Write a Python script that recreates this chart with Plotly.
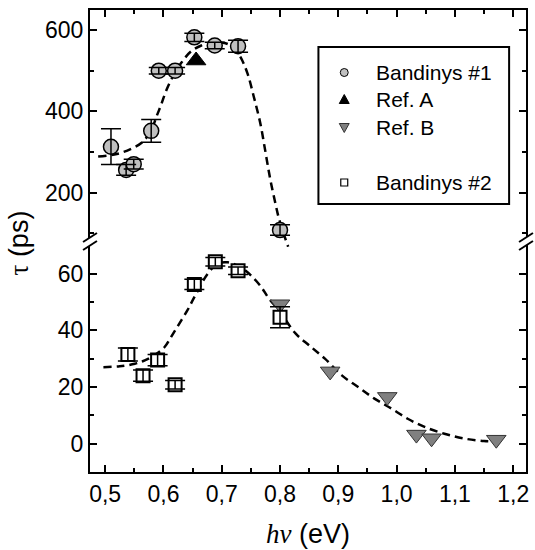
import plotly.graph_objects as go

# ---- data -------------------------------------------------------------
# Bandinys #1 (upper, ps scale)
b1_x = [0.510, 0.536, 0.549, 0.579, 0.592, 0.620, 0.653, 0.688, 0.728, 0.800]
b1_y = [313, 256, 270, 352, 500, 500, 582, 562, 560, 108]
b1_err = [44, 13, 12, 28, 8, 8, 10, 8, 15, 13]

# Ref. A
refa_x = [0.656]
refa_y = [525]

# Bandinys #2 (lower scale)
b2_x = [0.539, 0.565, 0.590, 0.620, 0.653, 0.689, 0.728, 0.800]
b2_y = [31.5, 24.0, 29.5, 20.8, 56.2, 64.2, 61.0, 44.6]
b2_err = [2.3, 2.0, 2.0, 1.5, 1.8, 1.5, 1.3, 3.7]

# Ref. B
refb_x = [0.800, 0.886, 0.984, 1.034, 1.060, 1.171]
refb_y = [49.2, 25.5, 16.5, 3.2, 1.9, 1.4]

# dashed guide lines
fit1_x = [0.488, 0.520, 0.545, 0.562, 0.578, 0.588, 0.596, 0.605, 0.616, 0.630,
          0.647, 0.665, 0.685, 0.705, 0.720, 0.732, 0.744, 0.755, 0.766, 0.775,
          0.783, 0.792, 0.798, 0.806, 0.814]
fit1_y = [289, 295, 308, 322, 350, 387, 416, 452, 485, 518,
          547, 562, 568, 568, 557, 534, 494, 436, 372, 300,
          235, 174, 137, 100, 67]

fit2_x = [0.497, 0.525, 0.551, 0.568, 0.585, 0.602, 0.613, 0.627, 0.641, 0.653,
          0.676, 0.693, 0.710, 0.725, 0.738, 0.750, 0.767, 0.780, 0.800, 0.827,
          0.850, 0.877, 0.906, 0.934, 0.962, 0.991, 1.019, 1.048, 1.082, 1.116,
          1.150, 1.172]
fit2_y = [27.0, 27.3, 28.2, 29.4, 31.3, 34.1, 37.6, 42.3, 47.0, 51.7,
          60.0, 63.5, 64.0, 63.0, 61.5, 59.4, 55.5, 51.5, 46.5, 38.8,
          34.7, 30.0, 24.1, 20.0, 15.9, 12.4, 8.8, 5.9, 3.5, 1.8,
          0.9, 0.8]

x_ticks = [0.5, 0.6, 0.7, 0.8, 0.9, 1.0, 1.1, 1.2]
x_ticktext = ["0,5", "0,6", "0,7", "0,8", "0,9", "1,0", "1,1", "1,2"]
x_minor = [0.55, 0.65, 0.75, 0.85, 0.95, 1.05, 1.15]
y_lo_ticks = [0, 20, 40, 60]
y_lo_minor = [-10, 10, 30, 50]
y_hi_ticks = [200, 400, 600]
y_hi_minor = [100, 300, 500]

legend_names = ["Bandinys #1", "Ref. A", "Ref. B", "Bandinys #2"]

# ---- geometry ------------------------------------------------------------
W, H = 535, 550
ML, MR, MT, MB = 90, 6, 10, 78
PW, PH = W - ML - MR, H - MT - MB
SPLIT = (H - MB - 247) / PH          # boundary between the two panels


def px(xp):
    return (xp - ML) / PW


def py(yp):
    return (H - MB - yp) / PH


FONT = "Liberation Sans, Arial, sans-serif"
SERIF = "Liberation Serif, Times New Roman, serif"
DASH = "8px,5px"
GREY1 = "#c0c0c0"
GREY2 = "#808080"

fig = go.Figure()

# guide curves
fig.add_trace(go.Scatter(x=fit1_x, y=fit1_y, xaxis="x2", yaxis="y2", mode="lines",
                         line=dict(color="black", width=2.5, dash=DASH, shape="spline"),
                         hoverinfo="skip"))
fig.add_trace(go.Scatter(x=fit2_x, y=fit2_y, xaxis="x", yaxis="y", mode="lines",
                         line=dict(color="black", width=2.5, dash=DASH, shape="spline"),
                         hoverinfo="skip"))

# upper panel markers
fig.add_trace(go.Scatter(x=b1_x, y=b1_y, xaxis="x2", yaxis="y2", mode="markers",
                         marker=dict(symbol="circle", size=15, color=GREY1,
                                     line=dict(color="black", width=1.5))))
fig.add_trace(go.Scatter(x=b1_x, y=b1_y, xaxis="x2", yaxis="y2", mode="markers",
                         marker=dict(size=1, color="rgba(0,0,0,0)"),
                         error_y=dict(type="data", array=b1_err, color="black",
                                      thickness=1.5, width=10)))
fig.add_trace(go.Scatter(x=refa_x, y=refa_y, xaxis="x2", yaxis="y2", mode="markers",
                         marker=dict(symbol="triangle-up", size=17, color="black",
                                     line=dict(color="black", width=1))))

# lower panel markers
fig.add_trace(go.Scatter(x=refb_x, y=refb_y, xaxis="x", yaxis="y", mode="markers",
                         marker=dict(symbol="triangle-down", size=17, color=GREY2,
                                     line=dict(color="#333333", width=1))))
fig.add_trace(go.Scatter(x=b2_x, y=b2_y, xaxis="x", yaxis="y", mode="markers",
                         marker=dict(symbol="square", size=13, color="white",
                                     line=dict(color="black", width=2))))
fig.add_trace(go.Scatter(x=b2_x, y=b2_y, xaxis="x", yaxis="y", mode="markers",
                         marker=dict(size=1, color="rgba(0,0,0,0)"),
                         error_y=dict(type="data", array=b2_err, color="black",
                                      thickness=1.5, width=10)))

axis_common = dict(showline=True, linecolor="black", linewidth=2, ticks="inside",
                   ticklen=7, tickwidth=2, tickcolor="black", showgrid=False,
                   zeroline=False, tickfont=dict(family=FONT, size=23, color="black"))


def minor(vals):
    return dict(tickvals=vals, ticks="inside", ticklen=4, tickwidth=2,
                tickcolor="black", showgrid=False)


fig.update_layout(
    width=W, height=H,
    margin=dict(l=ML, r=MR, t=MT, b=MB),
    paper_bgcolor="white", plot_bgcolor="white",
    showlegend=False,
    xaxis=dict(domain=[0, 1], anchor="y", range=[0.474, 1.222],
               tickmode="array", tickvals=x_ticks, ticktext=x_ticktext,
               minor=minor(x_minor), **axis_common),
    xaxis2=dict(domain=[0, 1], anchor="y2", matches="x", side="top",
                range=[0.474, 1.222], tickmode="array", tickvals=x_ticks,
                showticklabels=False, minor=minor(x_minor), **axis_common),
    yaxis=dict(domain=[0, SPLIT], anchor="x", range=[-10, 69.4], mirror="ticks",
               tickmode="array", tickvals=y_lo_ticks, minor=minor(y_lo_minor),
               **axis_common),
    yaxis2=dict(domain=[SPLIT, 1], anchor="x2", range=[66.4, 649.2], mirror="ticks",
                tickmode="array", tickvals=y_hi_ticks, minor=minor(y_hi_minor),
                **axis_common),
)

# ---- legend box (drawn by hand for exact row spacing) ---------------------
fig.add_shape(type="rect", xref="paper", yref="paper",
              x0=px(320), x1=px(512), y0=py(204), y1=py(47),
              line=dict(color="black", width=2), fillcolor="rgba(0,0,0,0)")

LX = 346                       # symbol centre
rows = [72.5, 99.5, 127.5, 182.5]
# circle
fig.add_shape(type="circle", xref="paper", yref="paper",
              x0=px(LX - 4), x1=px(LX + 4), y0=py(rows[0] + 4), y1=py(rows[0] - 4),
              fillcolor=GREY1, line=dict(color="black", width=1))
# up triangle
r = rows[1]
fig.add_shape(type="path", xref="paper", yref="paper",
              path=f"M {px(LX - 5)},{py(r + 4)} L {px(LX + 5)},{py(r + 4)} "
                   f"L {px(LX)},{py(r - 5)} Z",
              fillcolor="black", line=dict(color="black", width=1))
# down triangle
r = rows[2]
fig.add_shape(type="path", xref="paper", yref="paper",
              path=f"M {px(LX - 5)},{py(r - 4)} L {px(LX + 5)},{py(r - 4)} "
                   f"L {px(LX)},{py(r + 5)} Z",
              fillcolor=GREY2, line=dict(color="#333333", width=1))
# square
r = rows[3]
fig.add_shape(type="rect", xref="paper", yref="paper",
              x0=px(LX - 3.5), x1=px(LX + 3.5), y0=py(r + 3.5), y1=py(r - 3.5),
              fillcolor="white", line=dict(color="black", width=1.2))
for name, r in zip(legend_names, rows):
    fig.add_annotation(xref="paper", yref="paper", x=px(376), y=py(r),
                       xanchor="left", yanchor="middle", showarrow=False,
                       text=name, font=dict(family=FONT, size=21, color="black"))


# axis-break marks on both spines
def brk(xc):
    a = (xc - 7, 242)
    b = (xc + 7, 233)
    c = (xc + 7, 241)
    d = (xc - 7, 250)
    fig.add_shape(type="path", xref="paper", yref="paper",
                  path=f"M {px(a[0])},{py(a[1])} L {px(b[0])},{py(b[1])} "
                       f"L {px(c[0])},{py(c[1])} L {px(d[0])},{py(d[1])} Z",
                  fillcolor="white", line=dict(width=0), layer="above")
    for p, q in ((a, b), (d, c)):
        fig.add_shape(type="line", xref="paper", yref="paper",
                      x0=px(p[0]), y0=py(p[1]), x1=px(q[0]), y1=py(q[1]),
                      line=dict(color="black", width=2), layer="above")


brk(90)
brk(529)

# axis titles
fig.add_annotation(xref="paper", yref="paper", x=px(309), y=py(534),
                   xanchor="center", yanchor="middle", showarrow=False,
                   text=f"<span style='font-family:{SERIF}'><i>hν</i></span> (eV)",
                   font=dict(family=FONT, size=27, color="black"))
fig.add_annotation(xref="paper", yref="paper", x=px(19), y=py(243),
                   xanchor="center", yanchor="middle", showarrow=False, textangle=-90,
                   text=f"<span style='font-family:{SERIF}'>τ</span> (ps)",
                   font=dict(family=FONT, size=27, color="black"))

fig.write_html("out.html")
